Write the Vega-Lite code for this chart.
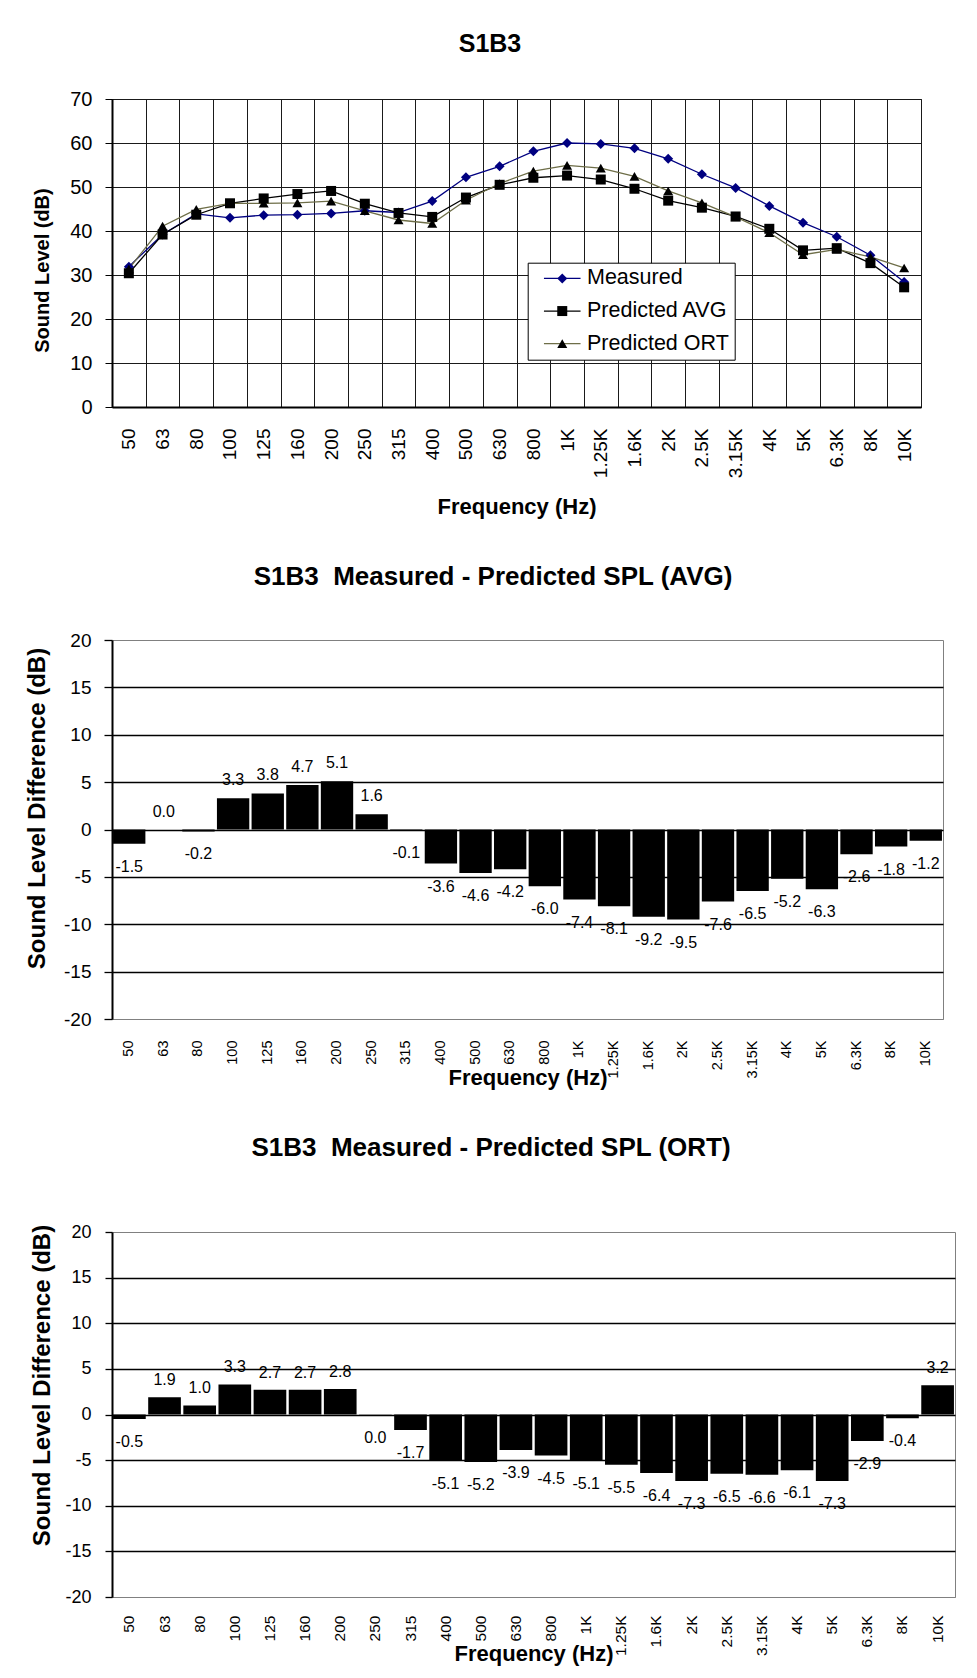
{
  "$schema": "https://vega.github.io/schema/vega-lite/v6.json",
  "background": "white",
  "padding": {"left": 24, "top": 31, "right": 10, "bottom": 10},
  "spacing": 45,
  "datasets": {
    "levels": [
      {"freq": "50", "series": "Measured", "level": 31.9},
      {"freq": "63", "series": "Measured", "level": 39.2},
      {"freq": "80", "series": "Measured", "level": 43.9},
      {"freq": "100", "series": "Measured", "level": 43.0},
      {"freq": "125", "series": "Measured", "level": 43.6},
      {"freq": "160", "series": "Measured", "level": 43.7},
      {"freq": "200", "series": "Measured", "level": 44.0},
      {"freq": "250", "series": "Measured", "level": 44.6},
      {"freq": "315", "series": "Measured", "level": 44.2},
      {"freq": "400", "series": "Measured", "level": 46.8},
      {"freq": "500", "series": "Measured", "level": 52.2},
      {"freq": "630", "series": "Measured", "level": 54.7},
      {"freq": "800", "series": "Measured", "level": 58.1},
      {"freq": "1K", "series": "Measured", "level": 60.0},
      {"freq": "1.25K", "series": "Measured", "level": 59.8},
      {"freq": "1.6K", "series": "Measured", "level": 58.8},
      {"freq": "2K", "series": "Measured", "level": 56.4},
      {"freq": "2.5K", "series": "Measured", "level": 52.9},
      {"freq": "3.15K", "series": "Measured", "level": 49.8},
      {"freq": "4K", "series": "Measured", "level": 45.7},
      {"freq": "5K", "series": "Measured", "level": 41.9},
      {"freq": "6.3K", "series": "Measured", "level": 38.7},
      {"freq": "8K", "series": "Measured", "level": 34.5},
      {"freq": "10K", "series": "Measured", "level": 28.4},
      {"freq": "50", "series": "Predicted AVG", "level": 30.4},
      {"freq": "63", "series": "Predicted AVG", "level": 39.2},
      {"freq": "80", "series": "Predicted AVG", "level": 43.7},
      {"freq": "100", "series": "Predicted AVG", "level": 46.3},
      {"freq": "125", "series": "Predicted AVG", "level": 47.4},
      {"freq": "160", "series": "Predicted AVG", "level": 48.4},
      {"freq": "200", "series": "Predicted AVG", "level": 49.1},
      {"freq": "250", "series": "Predicted AVG", "level": 46.2},
      {"freq": "315", "series": "Predicted AVG", "level": 44.1},
      {"freq": "400", "series": "Predicted AVG", "level": 43.2},
      {"freq": "500", "series": "Predicted AVG", "level": 47.6},
      {"freq": "630", "series": "Predicted AVG", "level": 50.5},
      {"freq": "800", "series": "Predicted AVG", "level": 52.1},
      {"freq": "1K", "series": "Predicted AVG", "level": 52.6},
      {"freq": "1.25K", "series": "Predicted AVG", "level": 51.7},
      {"freq": "1.6K", "series": "Predicted AVG", "level": 49.6},
      {"freq": "2K", "series": "Predicted AVG", "level": 46.9},
      {"freq": "2.5K", "series": "Predicted AVG", "level": 45.3},
      {"freq": "3.15K", "series": "Predicted AVG", "level": 43.3},
      {"freq": "4K", "series": "Predicted AVG", "level": 40.5},
      {"freq": "5K", "series": "Predicted AVG", "level": 35.6},
      {"freq": "6.3K", "series": "Predicted AVG", "level": 36.1},
      {"freq": "8K", "series": "Predicted AVG", "level": 32.7},
      {"freq": "10K", "series": "Predicted AVG", "level": 27.2},
      {"freq": "50", "series": "Predicted ORT", "level": 31.4},
      {"freq": "63", "series": "Predicted ORT", "level": 41.1},
      {"freq": "80", "series": "Predicted ORT", "level": 44.9},
      {"freq": "100", "series": "Predicted ORT", "level": 46.3},
      {"freq": "125", "series": "Predicted ORT", "level": 46.3},
      {"freq": "160", "series": "Predicted ORT", "level": 46.4},
      {"freq": "200", "series": "Predicted ORT", "level": 46.8},
      {"freq": "250", "series": "Predicted ORT", "level": 44.6},
      {"freq": "315", "series": "Predicted ORT", "level": 42.5},
      {"freq": "400", "series": "Predicted ORT", "level": 41.7},
      {"freq": "500", "series": "Predicted ORT", "level": 47.0},
      {"freq": "630", "series": "Predicted ORT", "level": 50.8},
      {"freq": "800", "series": "Predicted ORT", "level": 53.6},
      {"freq": "1K", "series": "Predicted ORT", "level": 54.9},
      {"freq": "1.25K", "series": "Predicted ORT", "level": 54.3},
      {"freq": "1.6K", "series": "Predicted ORT", "level": 52.4},
      {"freq": "2K", "series": "Predicted ORT", "level": 49.1},
      {"freq": "2.5K", "series": "Predicted ORT", "level": 46.4},
      {"freq": "3.15K", "series": "Predicted ORT", "level": 43.2},
      {"freq": "4K", "series": "Predicted ORT", "level": 39.6},
      {"freq": "5K", "series": "Predicted ORT", "level": 34.6},
      {"freq": "6.3K", "series": "Predicted ORT", "level": 35.8},
      {"freq": "8K", "series": "Predicted ORT", "level": 34.1},
      {"freq": "10K", "series": "Predicted ORT", "level": 31.6}
    ],
    "avgDiff": [
      {"freq": "50", "diff": -1.5},
      {"freq": "63", "diff": 0.0},
      {"freq": "80", "diff": -0.2},
      {"freq": "100", "diff": 3.3},
      {"freq": "125", "diff": 3.8},
      {"freq": "160", "diff": 4.7},
      {"freq": "200", "diff": 5.1},
      {"freq": "250", "diff": 1.6},
      {"freq": "315", "diff": -0.1},
      {"freq": "400", "diff": -3.6},
      {"freq": "500", "diff": -4.6},
      {"freq": "630", "diff": -4.2},
      {"freq": "800", "diff": -6.0},
      {"freq": "1K", "diff": -7.4},
      {"freq": "1.25K", "diff": -8.1},
      {"freq": "1.6K", "diff": -9.2},
      {"freq": "2K", "diff": -9.5},
      {"freq": "2.5K", "diff": -7.6},
      {"freq": "3.15K", "diff": -6.5},
      {"freq": "4K", "diff": -5.2},
      {"freq": "5K", "diff": -6.3},
      {"freq": "6.3K", "diff": -2.6},
      {"freq": "8K", "diff": -1.8},
      {"freq": "10K", "diff": -1.2}
    ],
    "ortDiff": [
      {"freq": "50", "diff": -0.5},
      {"freq": "63", "diff": 1.9},
      {"freq": "80", "diff": 1.0},
      {"freq": "100", "diff": 3.3},
      {"freq": "125", "diff": 2.7},
      {"freq": "160", "diff": 2.7},
      {"freq": "200", "diff": 2.8},
      {"freq": "250", "diff": -0.04},
      {"freq": "315", "diff": -1.7},
      {"freq": "400", "diff": -5.1},
      {"freq": "500", "diff": -5.2},
      {"freq": "630", "diff": -3.9},
      {"freq": "800", "diff": -4.5},
      {"freq": "1K", "diff": -5.1},
      {"freq": "1.25K", "diff": -5.5},
      {"freq": "1.6K", "diff": -6.4},
      {"freq": "2K", "diff": -7.3},
      {"freq": "2.5K", "diff": -6.5},
      {"freq": "3.15K", "diff": -6.6},
      {"freq": "4K", "diff": -6.1},
      {"freq": "5K", "diff": -7.3},
      {"freq": "6.3K", "diff": -2.9},
      {"freq": "8K", "diff": -0.4},
      {"freq": "10K", "diff": 3.2}
    ]
  },
  "vconcat": [
    {
      "width": 809,
      "height": 308,
      "title": {"text": "S1B3", "fontSize": 25, "fontWeight": "bold", "font": "Liberation Sans", "color": "black", "anchor": "middle", "dx": -26.5, "offset": 32},
      "view": {"stroke": "#1a1a1a", "strokeWidth": 1},
      "data": {"name": "levels"},
      "encoding": {
        "x": {
          "field": "freq", "type": "ordinal", "sort": null,
          "scale": {"type": "band", "paddingInner": 0, "paddingOuter": 0},
          "axis": {
            "title": "Frequency (Hz)", "titleFontSize": 22, "titleFontWeight": "bold", "titleY": 106, "titleBaseline": "alphabetic",
            "labelAngle": -90, "labelAlign": "right", "labelBaseline": "middle", "labelFontSize": 19, "labelPadding": 21,
            "ticks": false, "tickSize": 0, "tickBand": "extent",
            "grid": true, "gridColor": "#1a1a1a", "gridWidth": 1,
            "domainColor": "black", "domainWidth": 2
          }
        },
        "y": {
          "field": "level", "type": "quantitative",
          "scale": {"domain": [0, 70], "nice": false, "zero": true},
          "axis": {
            "title": "Sound Level (dB)", "titleFontSize": 20, "titleFontWeight": "bold", "titleX": -70, "titleY": 171, "titleBaseline": "middle", "titleAlign": "center",
            "values": [0, 10, 20, 30, 40, 50, 60, 70],
            "labelFontSize": 20, "labelPadding": 13, "tickSize": 7, "tickColor": "black",
            "grid": true, "gridColor": "#1a1a1a", "gridWidth": 1,
            "domainColor": "black", "domainWidth": 2
          }
        }
      },
      "layer": [
        {
          "mark": {"type": "line", "strokeWidth": 1.3},
          "encoding": {
            "color": {
              "field": "series", "type": "nominal",
              "scale": {"domain": ["Measured", "Predicted AVG", "Predicted ORT"], "range": ["#000080", "#000000", "#6e6e48"]},
              "legend": {
                "orient": "none", "legendX": 415.7, "legendY": 163.7, "title": null,
                "symbolType": "M-3.66,0H3.66", "symbolSize": 100, "symbolStrokeWidth": 1.3,
                "symbolOffset": 18.8, "labelOffset": 14,
                "labelFontSize": 21.5, "labelFont": "Liberation Sans", "labelColor": "black",
                "padding": 5, "rowPadding": 9.6,
                "strokeColor": "black", "fillColor": "white", "cornerRadius": 0
              }
            }
          }
        },
        {
          "mark": {"type": "point", "filled": true, "opacity": 1, "size": 100, "strokeWidth": 0},
          "encoding": {
            "fill": {
              "field": "series", "type": "nominal",
              "scale": {"range": ["#000080", "#000000", "#000000"]},
              "legend": {
                "orient": "none", "legendX": 415.7, "legendY": 163.7, "title": null,
                "symbolSize": 100, "symbolStrokeWidth": 0, "symbolStrokeColor": "transparent",
                "symbolOffset": 18.8, "labelOffset": 14,
                "labelFontSize": 21.5, "labelFont": "Liberation Sans", "labelOpacity": 0,
                "padding": 5, "rowPadding": 9.6
              }
            },
            "shape": {
              "field": "series", "type": "nominal",
              "scale": {"range": ["diamond", "square", "triangle-up"]},
              "legend": {
                "orient": "none", "legendX": 415.7, "legendY": 163.7, "title": null,
                "symbolSize": 100, "symbolStrokeWidth": 0, "symbolStrokeColor": "transparent",
                "symbolOffset": 18.8, "labelOffset": 14,
                "labelFontSize": 21.5, "labelFont": "Liberation Sans", "labelOpacity": 0,
                "padding": 5, "rowPadding": 9.6
              }
            }
          }
        }
      ]
    },
    {
      "width": 831,
      "height": 379,
      "title": {"text": "S1B3\u00a0 Measured - Predicted SPL (AVG)", "fontSize": 26, "fontWeight": "bold", "font": "Liberation Sans", "color": "black", "anchor": "middle", "dx": -34.5, "offset": 41},
      "view": {"stroke": "#808080", "strokeWidth": 1},
      "data": {"name": "avgDiff"},
      "encoding": {
        "x": {
          "field": "freq", "type": "ordinal", "sort": null,
          "scale": {"type": "band", "paddingInner": 0.066, "paddingOuter": 0.03},
          "axis": {
            "title": "Frequency (Hz)", "titleFontSize": 22, "titleFontWeight": "bold", "titleY": 65, "titleBaseline": "alphabetic",
            "labelAngle": -90, "labelAlign": "right", "labelBaseline": "middle", "labelFontSize": 14.5, "labelPadding": 21,
            "ticks": false, "tickSize": 0,
            "domainColor": "#808080", "domainWidth": 1
          }
        },
        "y": {
          "field": "diff", "type": "quantitative",
          "scale": {"domain": [-20, 20], "nice": false},
          "axis": {
            "title": "Sound Level Difference (dB)", "titleFontSize": 24, "titleFontWeight": "bold", "titleX": -74.5, "titleY": 168, "titleBaseline": "middle", "titleAlign": "center",
            "values": [-20, -15, -10, -5, 0, 5, 10, 15, 20],
            "labelFontSize": 19, "labelPadding": 13, "tickSize": 8, "tickWidth": 1.3, "tickColor": "black",
            "grid": true, "gridColor": "black", "gridWidth": 1.3,
            "gridOpacity": {"condition": {"test": "abs(datum.value) === 20", "value": 0}, "value": 1},
            "domainColor": "black", "domainWidth": 2
          }
        }
      },
      "layer": [
        {"mark": {"type": "bar", "color": "black"}},
        {
          "transform": [{"filter": "datum.diff >= 0"}],
          "mark": {"type": "text", "align": "center", "baseline": "alphabetic", "dy": -13, "fontSize": 16, "font": "Liberation Sans", "color": "black"},
          "encoding": {"text": {"field": "diff", "type": "quantitative", "format": ".1f"}}
        },
        {
          "transform": [{"filter": "datum.diff < 0"}],
          "mark": {"type": "text", "align": "center", "baseline": "alphabetic", "dy": 28, "fontSize": 16, "font": "Liberation Sans", "color": "black"},
          "encoding": {"text": {"field": "diff", "type": "quantitative", "format": ".1f"}}
        }
      ]
    },
    {
      "width": 843,
      "height": 365,
      "title": {"text": "S1B3\u00a0 Measured - Predicted SPL (ORT)", "fontSize": 26, "fontWeight": "bold", "font": "Liberation Sans", "color": "black", "anchor": "middle", "dx": -42.5, "offset": 62},
      "view": {"stroke": "#808080", "strokeWidth": 1},
      "data": {"name": "ortDiff"},
      "encoding": {
        "x": {
          "field": "freq", "type": "ordinal", "sort": null,
          "scale": {"type": "band", "paddingInner": 0.07, "paddingOuter": 0.03},
          "axis": {
            "title": "Frequency (Hz)", "titleFontSize": 22, "titleFontWeight": "bold", "titleY": 63, "titleBaseline": "alphabetic",
            "labelAngle": -90, "labelAlign": "right", "labelBaseline": "middle", "labelFontSize": 15.5, "labelPadding": 18,
            "ticks": false, "tickSize": 0,
            "domainColor": "#808080", "domainWidth": 1
          }
        },
        "y": {
          "field": "diff", "type": "quantitative",
          "scale": {"domain": [-20, 20], "nice": false},
          "axis": {
            "title": "Sound Level Difference (dB)", "titleFontSize": 24, "titleFontWeight": "bold", "titleX": -69.5, "titleY": 153, "titleBaseline": "middle", "titleAlign": "center",
            "values": [-20, -15, -10, -5, 0, 5, 10, 15, 20],
            "labelFontSize": 18, "labelPadding": 14, "tickSize": 7, "tickWidth": 1.3, "tickColor": "black",
            "grid": true, "gridColor": "black", "gridWidth": 1.3,
            "gridOpacity": {"condition": {"test": "abs(datum.value) === 20", "value": 0}, "value": 1},
            "domainColor": "black", "domainWidth": 2
          }
        }
      },
      "layer": [
        {"mark": {"type": "bar", "color": "black"}},
        {
          "transform": [{"filter": "datum.diff >= 0"}],
          "mark": {"type": "text", "align": "center", "baseline": "alphabetic", "dy": -12, "fontSize": 16, "font": "Liberation Sans", "color": "black"},
          "encoding": {"text": {"field": "diff", "type": "quantitative", "format": ".1f"}}
        },
        {
          "transform": [{"filter": "datum.diff < 0"}],
          "mark": {"type": "text", "align": "center", "baseline": "alphabetic", "dy": 28, "fontSize": 16, "font": "Liberation Sans", "color": "black"},
          "encoding": {"text": {"field": "diff", "type": "quantitative", "format": ".1f"}}
        }
      ]
    }
  ],
  "config": {
    "font": "Liberation Sans",
    "locale": {"number": {"decimal": ".", "thousands": ",", "grouping": [3], "currency": ["$", ""], "minus": "-"}},
    "axis": {
      "labelFont": "Liberation Sans", "titleFont": "Liberation Sans",
      "labelColor": "black", "titleColor": "black",
      "labelOverlap": false, "labelFlush": false, "labelBound": false
    },
    "legend": {"labelFont": "Liberation Sans"}
  }
}
